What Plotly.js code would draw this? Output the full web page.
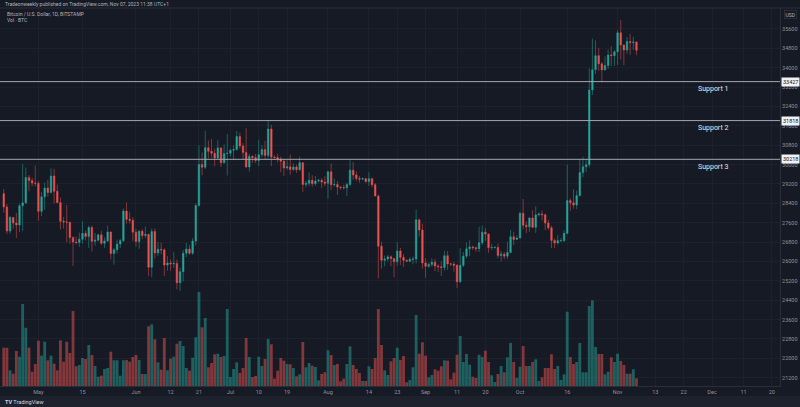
<!DOCTYPE html>
<html>
<head>
<meta charset="utf-8">
<script src="https://cdn.plot.ly/plotly-3.0.1.min.js"></script>
<style>
html,body{margin:0;padding:0;background:#161a25;}
#chart{width:800px;height:407px;}
</style>
</head>
<body>
<div id="chart"></div>
<script>
// ---- DATA (BTC/USD daily, Bitstamp, 2023-04-20 .. 2023-11-07) ----
const startDate = '2023-04-20';
const openP = [
28800,28250,27260,27820,27590,27510,28300,28420,29470,29340,29240,
29230,28070,28670,29030,28850,29530,28900,28430,27660,27630,27620,26990,26800,26780,26920,27160,27030,27400,26830,26880,27100,26750,26850,27220,26330,26480,26720,26860,28080,27740,27700,
27210,26820,27250,27070,27120,25760,27240,26350,26500,26480,25850,25940,25900,25920,25120,25580,26340,26510,26340,26840,28310,30000,29890,30700,30550,30470,30270,30690,30080,30450,
30470,30590,30620,31160,30770,30500,29900,30340,30290,30170,30410,30620,30380,31470,30310,30290,30230,30140,29860,29910,29800,29900,29790,30080,29180,29230,29350,29210,29320,29350,29280,
29230,29700,29170,29180,29070,29050,29040,29180,29770,29570,29430,29400,29420,29300,29420,29170,28700,26630,26050,26100,26190,26120,25990,26430,26170,26050,26010,26090,26100,27720,27300,
25940,25800,25870,25970,25810,25780,25750,26240,25900,25890,25840,25160,25840,26220,26520,26600,26570,26530,26770,27210,27130,26570,26580,26580,26250,26300,26220,26370,27020,26910,
26970,27990,27500,27430,27790,27410,27930,27960,27930,27590,27390,26870,26760,26860,26860,27160,28520,28420,28330,28720,29670,29910,29990,33080,33920,34500,34160,33910,34090,34530,34500,
34660,35440,34940,34730,35080,35040,35060];
const highP = [
28990,28370,27880,27820,28000,28390,30020,29880,29570,29450,29960,
29330,28880,29260,29370,29850,29830,29180,28640,27830,28330,27640,27040,27030,27190,27660,27280,27480,27480,27180,27150,27270,26990,27480,27220,26560,26900,26940,28190,28440,28050,27830,
27350,27300,27330,27440,27130,27360,27370,26800,26780,26540,26230,26090,26400,26080,25750,26470,26770,26690,26960,28400,30800,30500,31400,31000,31060,30660,31010,30710,30830,31270,
30660,30790,31390,31320,30890,31500,30450,30390,30440,31030,30810,30980,31820,31640,30390,30440,30330,30240,30180,30410,30050,29990,30330,30090,29330,29680,29560,29530,29410,29450,29520,
29740,30050,29410,29320,29110,29170,29250,30180,30110,29720,29530,29470,29450,29680,29460,29230,28770,26820,26250,26280,26250,26130,26800,26560,26300,26090,26170,26210,28140,27760,27560,
26130,25960,26120,26100,25880,26010,26430,26430,25940,25980,25890,26550,26390,26780,26880,26650,26620,27430,27480,27380,27160,26730,26640,26740,26430,26390,26820,27310,27230,27080,
28050,28580,27650,27830,28120,28280,28030,28100,27980,27720,27480,26950,27100,26970,27290,30000,28610,28980,28930,30220,30330,30200,33980,35200,35130,34820,34240,34470,34750,34880,34720,
35560,35970,34950,35270,35390,35280,35090];
const lowP = [
28010,27130,27150,27350,26970,27210,27250,28380,28900,29100,29100,
27680,27870,28140,28680,28810,28400,28410,27320,27360,26790,26730,25820,26700,26600,26730,26870,26560,26410,26650,26830,26680,26560,26800,26080,25870,26330,26560,26800,27560,27570,26840,
26620,26520,26920,26960,25400,25350,26120,26220,26300,25400,25620,25620,25730,24850,24780,25180,26180,26280,26270,26660,28270,29560,29820,30260,30290,29930,30230,29900,30040,29550,
30330,30180,30580,30660,30210,29850,29710,30070,30070,29950,30300,30200,30250,29940,30250,30080,29680,29530,29770,29580,29730,29660,29740,28870,29060,29120,29090,29120,29260,29040,29110,
28590,28950,29080,28750,28960,28970,28700,29120,29370,29320,29260,29360,29250,29120,29060,28700,25300,25700,25800,26000,25810,25350,25800,25850,25780,25970,25970,25880,25920,27020,25700,
25330,25730,25780,25600,25570,25400,25620,25650,25810,25580,24900,25120,25770,26130,26220,26470,26400,26390,26680,26850,26360,26480,26530,26130,26000,26090,26110,26340,26680,26890,
26950,27330,27170,27220,27370,27180,27860,27690,27290,27300,26560,26550,26700,26810,26800,27120,28100,28180,28160,28690,29480,29700,29880,32880,33740,33870,33390,33880,33950,34070,34080,
34120,34340,34110,34580,34540,34740,34520];
const closeP = [
28250,27260,27820,27590,27510,28300,28420,29470,29340,29240,29230,
28070,28670,29030,28850,29530,28900,28430,27660,27630,27620,26990,26800,26780,26920,27160,27030,27400,26830,26880,27100,26750,26850,27220,26330,26480,26720,26860,28080,27740,27700,27210,
26820,27250,27070,27120,25760,27240,26350,26500,26480,25850,25940,25900,25920,25120,25580,26340,26510,26340,26840,28310,30000,29890,30700,30550,30470,30270,30690,30080,30450,30470,
30590,30620,31160,30770,30500,29900,30340,30290,30170,30410,30620,30380,31470,30310,30290,30230,30140,29860,29910,29800,29900,29790,30080,29180,29230,29350,29210,29320,29350,29280,29230,
29700,29170,29180,29070,29050,29040,29180,29770,29570,29430,29400,29420,29300,29420,29170,28700,26630,26050,26100,26190,26120,25990,26430,26170,26050,26010,26090,26100,27720,27300,25940,
25800,25870,25970,25810,25780,25750,26240,25900,25890,25840,25160,25840,26220,26520,26600,26570,26530,26770,27210,27130,26570,26580,26580,26250,26300,26220,26370,27020,26910,26970,
27990,27500,27430,27790,27410,27930,27960,27930,27590,27390,26870,26760,26860,26860,27160,28520,28420,28330,28720,29670,29910,29990,33080,33920,34500,34160,33910,34090,34530,34500,34660,
35440,34940,34730,35080,35040,35060,34720];
const volBTC = [
1915,1915,785,615,1750,1465,4100,2915,1915,715,1100,
2265,1515,2215,1285,1515,1115,785,2285,1215,2215,1650,3750,985,1050,1400,1350,2050,1550,1000,465,515,850,900,1715,1285,1285,515,1285,1300,1215,1450,
1550,1300,600,600,2985,3085,2335,1185,815,2400,785,1365,1465,2115,2250,2000,900,765,1415,2435,4700,2935,3400,935,1150,1585,1615,1450,1500,3850,
450,850,1185,650,900,2400,1450,450,500,1465,1000,1350,2350,2085,365,765,1400,1265,1100,1085,900,485,585,2200,935,1150,1015,950,285,600,685,
1785,1550,1050,1100,235,365,1100,1985,1050,850,650,250,250,985,850,1400,3850,2050,785,550,1235,1400,1915,1300,1500,185,300,935,3550,1615,2185,
1515,435,550,835,765,985,1285,1265,335,665,1565,2500,1200,1600,1065,465,400,1565,1450,1765,1200,535,200,600,1000,685,1435,2150,1200,400,
965,2000,1000,1000,1200,1335,250,435,900,900,1585,850,1000,300,585,3715,1450,1100,1200,2150,685,685,4000,4285,1950,1600,1600,585,715,1435,1200,
1615,1250,1050,615,615,835,385];

const priceTicks = [21200,22000,22800,23600,24400,25200,26000,26800,27600,28400,29200,30000,30800,31600,32400,33200,34000,34800,35600];
const timeTickDates = ['2023-05-01','2023-05-15','2023-06-01','2023-06-12','2023-06-21','2023-07-01','2023-07-10','2023-07-19','2023-08-01','2023-08-14','2023-08-23','2023-09-01','2023-09-11','2023-09-20','2023-10-01','2023-10-16','2023-11-01','2023-11-13','2023-11-22','2023-12-01','2023-12-11','2023-12-20'];
const timeTickLabels = ['May','15','Jun','12','21','Jul','10','19','Aug','14','23','Sep','11','20','Oct','16','Nov','13','22','Dec','11','20'];
const supportLevels = [33427, 31818, 30218];
const supportNames = ['Support 1','Support 2','Support 3'];

// ---- build ----
const dates = [];
const t0 = Date.parse(startDate + 'T00:00:00Z');
for (let i = 0; i < closeP.length; i++) {
  dates.push(new Date(t0 + i * 86400000).toISOString().slice(0, 10));
}
const UP = '#26a69a', DOWN = '#ef5350';
const volColors = closeP.map((c, i) => c >= openP[i] ? 'rgba(38,166,154,0.5)' : 'rgba(239,83,80,0.5)');

const volTrace = {
  type: 'bar', x: dates, y: volBTC, xaxis: 'x', yaxis: 'y',
  marker: {color: volColors, line: {width: 0}},
  width: 86400000 * 0.9, hoverinfo: 'skip', showlegend: false
};
const candleTrace = {
  type: 'candlestick', x: dates, open: openP, high: highP, low: lowP, close: closeP,
  xaxis: 'x', yaxis: 'y2', whiskerwidth: 0,
  increasing: {line: {color: UP, width: 0.5}, fillcolor: UP},
  decreasing: {line: {color: DOWN, width: 0.5}, fillcolor: DOWN},
  hoverinfo: 'skip', showlegend: false
};

const FONT = 'Roboto, "Open Sans", sans-serif';
const shapes = [];
const annotations = [];
supportLevels.forEach((lv, i) => {
  shapes.push({type: 'line', xref: 'paper', x0: 0, x1: 1, yref: 'y2', y0: lv, y1: lv,
    line: {color: '#a3a6af', width: 1}, layer: 'above'});
  annotations.push({xref: 'paper', x: 696 / 780, xanchor: 'left', yref: 'y2', y: lv, yanchor: 'middle',
    yshift: -7.5, text: supportNames[i], showarrow: false, font: {family: FONT, size: 7, color: '#e6e7ea'}});
  annotations.push({xref: 'paper', x: 1, xanchor: 'left', xshift: 1, yref: 'y2', y: lv, yanchor: 'middle',
    text: String(lv), showarrow: false, bgcolor: '#f0f1f3', borderpad: 1,
    font: {family: FONT, size: 5.5, color: '#131722'}});
});
// header / legend texts
annotations.push({xref: 'paper', x: 0, xanchor: 'left', xshift: 3, yref: 'paper', y: 1, yanchor: 'middle', yshift: 4,
  text: 'Tradeonweekly published on TradingView.com, Nov 07, 2023 11:38 UTC+1', showarrow: false,
  font: {family: FONT, size: 5, color: '#b2b5be'}});
annotations.push({xref: 'paper', x: 0, xanchor: 'left', xshift: 5, yref: 'paper', y: 1, yanchor: 'middle', yshift: -6,
  text: 'Bitcoin / U.S. Dollar, 1D, BITSTAMP', showarrow: false, font: {family: FONT, size: 5, color: '#b2b5be'}});
annotations.push({xref: 'paper', x: 0, xanchor: 'left', xshift: 5, yref: 'paper', y: 1, yanchor: 'middle', yshift: -12,
  text: 'Vol · BTC', showarrow: false, font: {family: FONT, size: 5, color: '#b2b5be'}});
annotations.push({xref: 'paper', x: 1, xanchor: 'left', xshift: 4, yref: 'paper', y: 1, yanchor: 'middle', yshift: -6,
  text: 'USD', showarrow: false, bgcolor: '#161a25', bordercolor: '#363a45', borderwidth: 0.6, borderpad: 1,
  font: {family: FONT, size: 5, color: '#b2b5be'}});
// footer
shapes.push({type: 'rect', xref: 'paper', x0: 0, x1: 800 / 780, yref: 'paper', y0: -10 / 378, y1: -21 / 378,
  fillcolor: '#1e222d', line: {width: 0}, layer: 'below'});
annotations.push({xref: 'paper', x: 0, xanchor: 'left', xshift: 3, yref: 'paper', y: -15.5 / 378, yanchor: 'middle',
  text: '<b>TV</b> TradingView', showarrow: false, font: {family: FONT, size: 5.5, color: '#d1d4dc'}});
// frame lines
shapes.push({type: 'line', xref: 'paper', x0: 0, x1: 800 / 780, yref: 'paper', y0: 1, y1: 1,
  line: {color: '#2a2e39', width: 1}});

const layout = {
  width: 800, height: 407,
  margin: {l: 0, r: 20, t: 8, b: 21, pad: 0},
  paper_bgcolor: '#161a25', plot_bgcolor: '#161a25',
  font: {family: FONT, color: '#8e929c'},
  showlegend: false, hovermode: false, dragmode: false,
  xaxis: {
    type: 'date', range: ['2023-04-18 19:12', '2023-12-22 14:24'],
    tickvals: timeTickDates, ticktext: timeTickLabels, tickangle: 0,
    tickfont: {family: FONT, size: 5.5, color: '#8e929c'},
    showgrid: true, gridcolor: '#1d212c', gridwidth: 1,
    showline: true, linecolor: '#2a2e39', linewidth: 1,
    ticks: '', zeroline: false, rangeslider: {visible: false}, fixedrange: true
  },
  yaxis: {
    range: [0, 18900], visible: false, showgrid: false, zeroline: false, fixedrange: true
  },
  yaxis2: {
    overlaying: 'y', side: 'right', range: [20857, 36467],
    tickvals: priceTicks, ticktext: priceTicks.map(String),
    tickfont: {family: FONT, size: 5.5, color: '#8e929c'},
    showgrid: true, gridcolor: '#1d212c', gridwidth: 1,
    showline: true, linecolor: '#2a2e39', linewidth: 1,
    ticks: '', zeroline: false, fixedrange: true
  },
  shapes: shapes,
  annotations: annotations
};

Plotly.newPlot('chart', [volTrace, candleTrace], layout, {displayModeBar: false, staticPlot: true});
</script>
</body>
</html>
